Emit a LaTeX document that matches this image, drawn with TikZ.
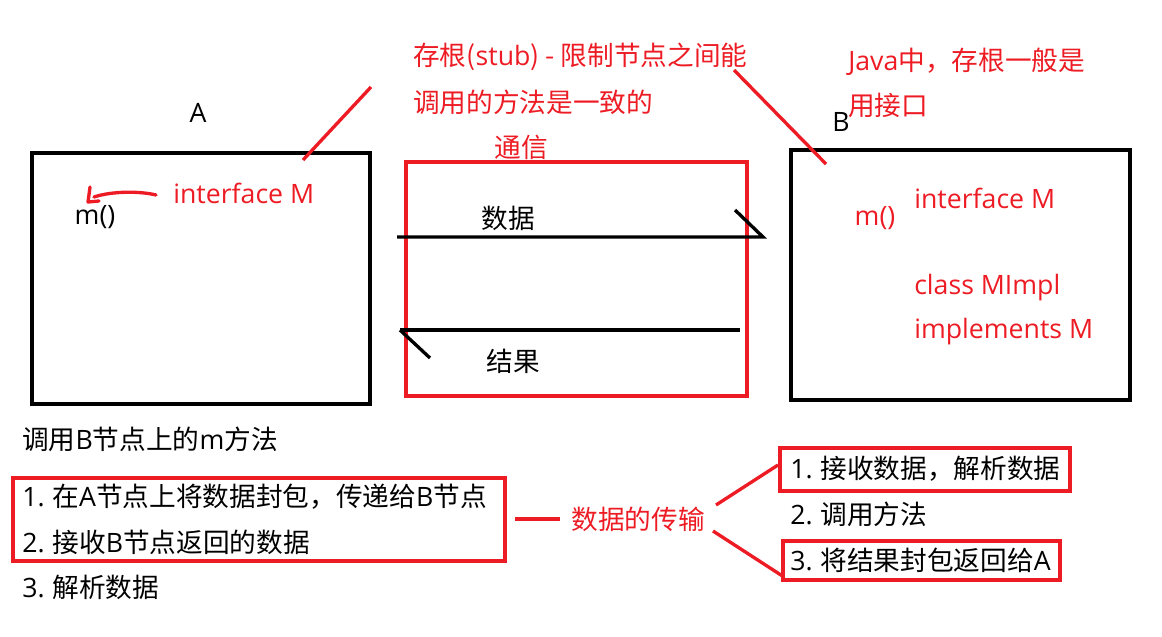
\documentclass[tikz,border=0pt]{standalone}
\usepackage{fontspec}
\setmainfont{Noto Sans CJK SC}
\newfontfamily\lat{Open Sans}
\definecolor{rd}{RGB}{237,28,36}
\begin{document}
\begin{tikzpicture}[x=0.75pt,y=-0.75pt,
  txt/.style={inner sep=0pt,font=\fontsize{20pt}{24pt}\selectfont},
  rtxt/.style={txt,text=rd},
  blk/.style={draw=black,line width=2.5pt},
  rbox/.style={draw=rd,line width=2.5pt},
  rline/.style={draw=rd,line width=2.5pt}]
\useasboundingbox (0,0) rectangle (1162,636);
% boxes
\draw[blk] (32,153) rectangle (370,404);
\draw[blk] (791,150) rectangle (1130,400);
\draw[rbox] (406,162) rectangle (747,396);
\node[txt] (A) at (198,113) {\lat A};
\node[txt] (B) at (841,122) {\lat B};
% left box content
\node[txt] (ma) at (95,217) {\lat m()};
\node[rtxt,anchor=west] (ifa) at (173,193) {\lat interface M};
\draw[rline,line cap=round,line join=round] (156,195) .. controls (140,191) and (112,191) .. (94,197);
\draw[rline,line cap=round,line join=round] (90,187) -- (88,202) -- (99,201);
% annotations
\node[rtxt,anchor=west] (stub1) at (413,57) {存根({\lat stub}) - 限制节点之间能};
\node[rtxt,anchor=west] (stub2) at (413,102) {调用的方法是一致的};
\node[rtxt] (stub3) at (521,147) {通信};
\coordinate (s1) at (303,160);
\coordinate (s2) at (371,87);
\draw[rline] (s1) -- (s2);
\node[rtxt,anchor=west] (java1) at (848,62) {{\lat Java}中，存根一般是};
\node[rtxt,anchor=west] (java2) at (848,105) {用接口};
\coordinate (j1) at (734,70);
\coordinate (j2) at (826,164);
\draw[rline] (j1) -- (j2);
% right box content
\node[rtxt] (mb) at (875,218) {\lat m()};
\node[rtxt,anchor=west] (ifb) at (914,198) {\lat interface M};
\node[rtxt,anchor=west] (cls) at (914,288) {\lat class MImpl};
\node[rtxt,anchor=west] (impl) at (914,332) {\lat implements M};
% arrows
\coordinate (d1) at (397,237);
\coordinate (d2) at (763,237);
\coordinate (d3) at (735,210);
\draw[blk] (d1) -- (d2) -- (d3);
\node[txt] (data) at (508,218) {数据};
\coordinate (r1) at (740,330);
\coordinate (r2) at (400,330);
\coordinate (r3) at (430,358);
\draw[blk] (r1) -- (r2);
\draw[blk] (r2) -- (r3);
\node[txt] (res) at (513,361) {结果};
% bottom left
\node[txt,anchor=west] (call) at (22,439) {调用{\lat B}节点上的{\lat m}方法};
\draw[rbox] (13,478) rectangle (505,561);
\node[txt,anchor=west] (l1) at (22,497) {{\lat 1.} 在{\lat A}节点上将数据封包，传递给{\lat B}节点};
\node[txt,anchor=west] (l2) at (22,542) {{\lat 2.} 接收{\lat B}节点返回的数据};
\node[txt,anchor=west] (l3) at (22,587) {{\lat 3.} 解析数据};
\coordinate (t1) at (515,519);
\coordinate (t2) at (560,519);
\draw[rline] (t1) -- (t2);
\node[rtxt] (trans) at (638,519) {数据的传输};
% bottom right
\draw[rbox] (780,448) rectangle (1070,491);
\node[txt,anchor=west] (rr1) at (790,469) {{\lat 1.} 接收数据，解析数据};
\node[txt,anchor=west] (rr2) at (790,514) {{\lat 2.} 调用方法};
\draw[rbox] (783,541) rectangle (1060,580);
\node[txt,anchor=west] (rr3) at (790,560) {{\lat 3.} 将结果封包返回给{\lat A}};
\coordinate (u1) at (716,505);
\coordinate (u2) at (778,465);
\coordinate (v1) at (713,531);
\coordinate (v2) at (784,577);
\draw[rline] (u1) -- (u2);
\draw[rline] (v1) -- (v2);
\end{tikzpicture}
\end{document}
